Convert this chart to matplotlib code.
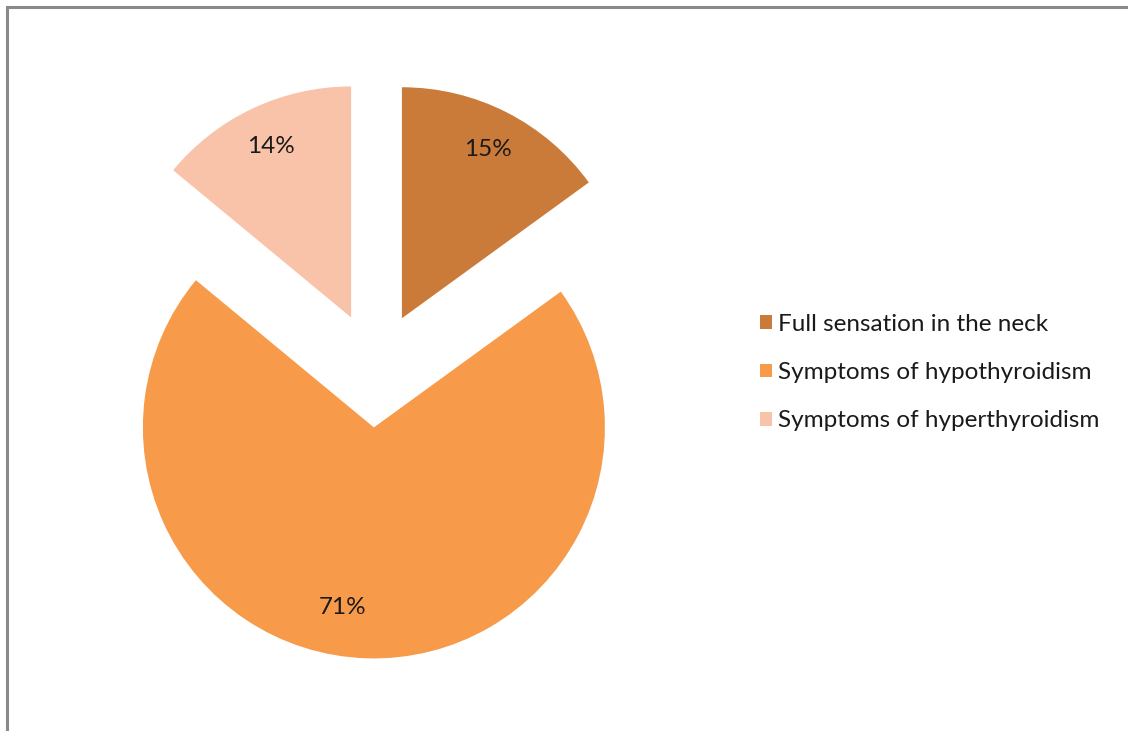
import matplotlib.pyplot as plt
from matplotlib.patches import Rectangle

plt.rcParams['font.family'] = ['Lato', 'DejaVu Sans']

labels = ['Full sensation in the neck', 'Symptoms of hypothyroidism', 'Symptoms of hyperthyroidism']
shares = [15, 71, 14]
colors = ['#CA7B3A', '#F79A4A', '#F9C3A9']

W, H = 1128, 731
fig = plt.figure(figsize=(W / 100, H / 100), dpi=100)

# pie centre and radius in pixels, axes spans whole figure
cx, cy, r = 375.7, H - 369.7, 231.0
ax = fig.add_axes([0, 0, 1, 1])
wedges, texts, autotexts = ax.pie(shares, colors=colors, startangle=90, counterclock=False,
                                  explode=[0.25, 0.25, 0.25], autopct='%1.0f%%', pctdistance=0.82,
                                  wedgeprops=dict(linewidth=0),
                                  textprops=dict(fontsize=17.5, color='#1a1a1a'))
ax.set_xlim(-cx / r, (W - cx) / r)
ax.set_ylim(-cy / r, (H - cy) / r)
ax.set_aspect('auto')
ax.axis('off')

# nudge the big slice label a little left and up
x, y = autotexts[1].get_position()
autotexts[1].set_position((x - 0.11, y + 0.04))

fig.legend(wedges, labels, loc='upper left', bbox_to_anchor=(738 / W, 1 - 292 / H),
           frameon=False, fontsize=17.5, handlelength=0.5, handleheight=0.5,
           handletextpad=0.25, labelspacing=1.12, labelcolor='#1a1a1a')

# grey chart-area frame, running off the right and bottom edges
fig.patches.append(Rectangle((7 / W, -0.05), 1.1, 1 - 7 / H + 0.05, transform=fig.transFigure,
                             fill=False, edgecolor='#8a8a8a', linewidth=2.2))

fig.savefig('out.png', dpi=100, facecolor='white')
